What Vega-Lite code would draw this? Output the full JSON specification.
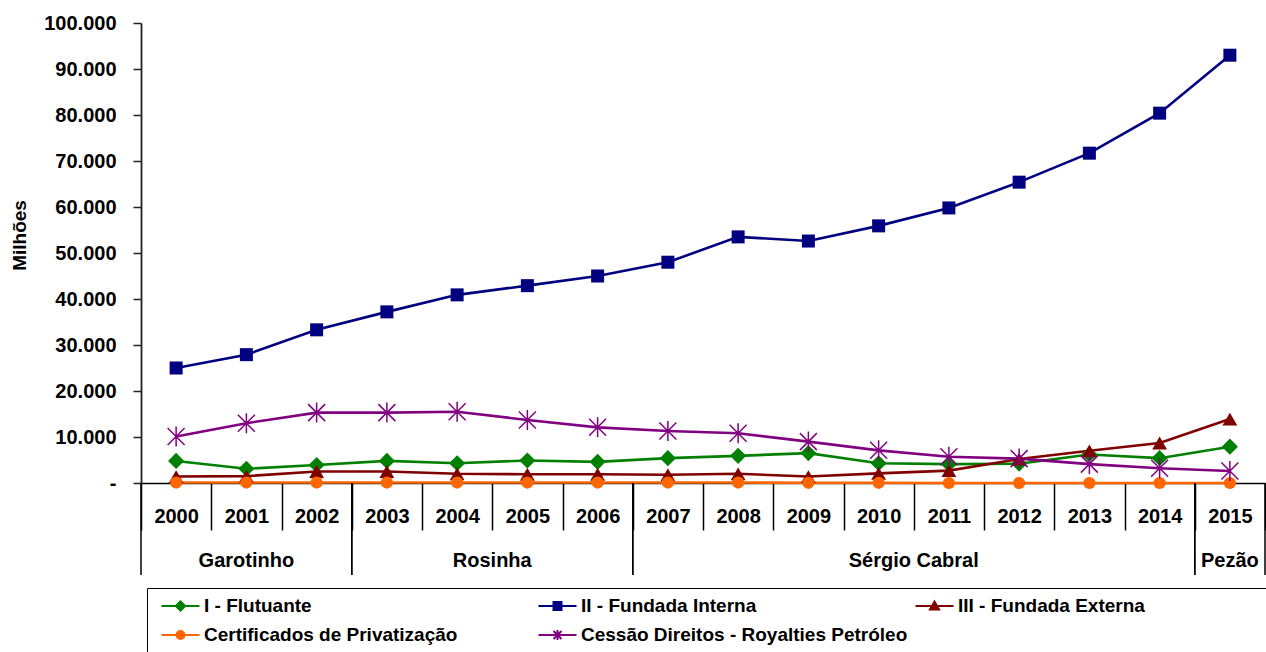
{
  "$schema": "https://vega.github.io/schema/vega-lite/v6.json",
  "autosize": {"type": "none"},
  "padding": {"left": 141, "top": 23, "right": 1, "bottom": 169},
  "width": 1124,
  "height": 460,
  "background": "white",
  "config": {"view": {"stroke": null}},
  "datasets": {
    "debt": [
      {"year": 2000, "series": "I - Flutuante", "value": 4800},
      {"year": 2001, "series": "I - Flutuante", "value": 3100},
      {"year": 2002, "series": "I - Flutuante", "value": 3900},
      {"year": 2003, "series": "I - Flutuante", "value": 4800},
      {"year": 2004, "series": "I - Flutuante", "value": 4300},
      {"year": 2005, "series": "I - Flutuante", "value": 4900},
      {"year": 2006, "series": "I - Flutuante", "value": 4600},
      {"year": 2007, "series": "I - Flutuante", "value": 5400},
      {"year": 2008, "series": "I - Flutuante", "value": 5900},
      {"year": 2009, "series": "I - Flutuante", "value": 6500},
      {"year": 2010, "series": "I - Flutuante", "value": 4300},
      {"year": 2011, "series": "I - Flutuante", "value": 4100},
      {"year": 2012, "series": "I - Flutuante", "value": 4200},
      {"year": 2013, "series": "I - Flutuante", "value": 6200},
      {"year": 2014, "series": "I - Flutuante", "value": 5400},
      {"year": 2015, "series": "I - Flutuante", "value": 7900},
      {"year": 2000, "series": "II - Fundada Interna", "value": 25000},
      {"year": 2001, "series": "II - Fundada Interna", "value": 27900},
      {"year": 2002, "series": "II - Fundada Interna", "value": 33300},
      {"year": 2003, "series": "II - Fundada Interna", "value": 37200},
      {"year": 2004, "series": "II - Fundada Interna", "value": 40900},
      {"year": 2005, "series": "II - Fundada Interna", "value": 42900},
      {"year": 2006, "series": "II - Fundada Interna", "value": 45000},
      {"year": 2007, "series": "II - Fundada Interna", "value": 48000},
      {"year": 2008, "series": "II - Fundada Interna", "value": 53500},
      {"year": 2009, "series": "II - Fundada Interna", "value": 52600},
      {"year": 2010, "series": "II - Fundada Interna", "value": 55900},
      {"year": 2011, "series": "II - Fundada Interna", "value": 59800},
      {"year": 2012, "series": "II - Fundada Interna", "value": 65400},
      {"year": 2013, "series": "II - Fundada Interna", "value": 71700},
      {"year": 2014, "series": "II - Fundada Interna", "value": 80400},
      {"year": 2015, "series": "II - Fundada Interna", "value": 93000},
      {"year": 2000, "series": "III - Fundada Externa", "value": 1400},
      {"year": 2001, "series": "III - Fundada Externa", "value": 1500},
      {"year": 2002, "series": "III - Fundada Externa", "value": 2500},
      {"year": 2003, "series": "III - Fundada Externa", "value": 2500},
      {"year": 2004, "series": "III - Fundada Externa", "value": 2000},
      {"year": 2005, "series": "III - Fundada Externa", "value": 1900},
      {"year": 2006, "series": "III - Fundada Externa", "value": 1900},
      {"year": 2007, "series": "III - Fundada Externa", "value": 1800},
      {"year": 2008, "series": "III - Fundada Externa", "value": 2000},
      {"year": 2009, "series": "III - Fundada Externa", "value": 1400},
      {"year": 2010, "series": "III - Fundada Externa", "value": 2100},
      {"year": 2011, "series": "III - Fundada Externa", "value": 2700},
      {"year": 2012, "series": "III - Fundada Externa", "value": 5200},
      {"year": 2013, "series": "III - Fundada Externa", "value": 7000},
      {"year": 2014, "series": "III - Fundada Externa", "value": 8700},
      {"year": 2015, "series": "III - Fundada Externa", "value": 13900},
      {"year": 2000, "series": "Certificados de Privatização", "value": 100},
      {"year": 2001, "series": "Certificados de Privatização", "value": 100},
      {"year": 2002, "series": "Certificados de Privatização", "value": 100},
      {"year": 2003, "series": "Certificados de Privatização", "value": 100},
      {"year": 2004, "series": "Certificados de Privatização", "value": 100},
      {"year": 2005, "series": "Certificados de Privatização", "value": 100},
      {"year": 2006, "series": "Certificados de Privatização", "value": 100},
      {"year": 2007, "series": "Certificados de Privatização", "value": 100},
      {"year": 2008, "series": "Certificados de Privatização", "value": 100},
      {"year": 2009, "series": "Certificados de Privatização", "value": 50},
      {"year": 2010, "series": "Certificados de Privatização", "value": 50},
      {"year": 2011, "series": "Certificados de Privatização", "value": 0},
      {"year": 2012, "series": "Certificados de Privatização", "value": 0},
      {"year": 2013, "series": "Certificados de Privatização", "value": 0},
      {"year": 2014, "series": "Certificados de Privatização", "value": 0},
      {"year": 2015, "series": "Certificados de Privatização", "value": 0},
      {"year": 2000, "series": "Cessão Direitos - Royalties Petróleo", "value": 10100},
      {"year": 2001, "series": "Cessão Direitos - Royalties Petróleo", "value": 13000},
      {"year": 2002, "series": "Cessão Direitos - Royalties Petróleo", "value": 15300},
      {"year": 2003, "series": "Cessão Direitos - Royalties Petróleo", "value": 15300},
      {"year": 2004, "series": "Cessão Direitos - Royalties Petróleo", "value": 15500},
      {"year": 2005, "series": "Cessão Direitos - Royalties Petróleo", "value": 13700},
      {"year": 2006, "series": "Cessão Direitos - Royalties Petróleo", "value": 12100},
      {"year": 2007, "series": "Cessão Direitos - Royalties Petróleo", "value": 11300},
      {"year": 2008, "series": "Cessão Direitos - Royalties Petróleo", "value": 10800},
      {"year": 2009, "series": "Cessão Direitos - Royalties Petróleo", "value": 9000},
      {"year": 2010, "series": "Cessão Direitos - Royalties Petróleo", "value": 7100},
      {"year": 2011, "series": "Cessão Direitos - Royalties Petróleo", "value": 5700},
      {"year": 2012, "series": "Cessão Direitos - Royalties Petróleo", "value": 5300},
      {"year": 2013, "series": "Cessão Direitos - Royalties Petróleo", "value": 4100},
      {"year": 2014, "series": "Cessão Direitos - Royalties Petróleo", "value": 3200},
      {"year": 2015, "series": "Cessão Direitos - Royalties Petróleo", "value": 2600}
    ],
    "gov": [
      {"gov": "Garotinho", "first": 2000, "last": 2002, "mid": 2001, "centered": true},
      {"gov": "Rosinha", "first": 2003, "last": 2006, "mid": 2005, "centered": false},
      {"gov": "Sérgio Cabral", "first": 2007, "last": 2014, "mid": 2011, "centered": false},
      {"gov": "Pezão", "first": 2015, "last": 2015, "mid": 2015, "centered": true}
    ]
  },
  "layer": [
    {
      "data": {"name": "debt"},
      "mark": {"type": "line", "strokeWidth": 2.6},
      "encoding": {
        "x": {
          "field": "year", "type": "ordinal", "bandPosition": 0.5,
          "scale": {"type": "band", "paddingInner": 0, "paddingOuter": 0,
                    "domain": [2000,2001,2002,2003,2004,2005,2006,2007,2008,2009,2010,2011,2012,2013,2014,2015]},
          "axis": {"orient": "bottom", "title": null, "grid": false, "tickBand": "extent", "tickSize": 47, "tickColor": "#000", "tickWidth": 1.5, "domainColor": "#000", "domainWidth": 1.5, "labelFont": "Liberation Sans", "labelFontSize": 20, "labelFontWeight": "bold", "labelColor": "#000", "labelAngle": 0, "labelBaseline": "middle", "labelAlign": "center", "labelPadding": -14, "labelOverlap": false, "labelBound": false}
        },
        "y": {
          "field": "value", "type": "quantitative",
          "scale": {"domain": [0, 100000], "nice": false},
          "axis": {"orient": "left", "title": "Milhões", "grid": false, "values": [0,10000,20000,30000,40000,50000,60000,70000,80000,90000,100000], "labelExpr": "datum.value === 0 ? '-' : replace(format(datum.value, ','), ',', '.')", "tickSize": 8, "tickColor": "#222", "tickWidth": 1.5, "domainColor": "#222", "domainWidth": 1.8, "labelFont": "Liberation Sans", "labelFontSize": 20, "labelFontWeight": "bold", "labelColor": "#000", "labelPadding": 17, "titleFont": "Liberation Sans", "titleFontSize": 19, "titleFontWeight": "bold", "titleColor": "#000", "titleAngle": 270, "titleBaseline": "bottom", "titleAlign": "center", "titleX": -112, "titleY": 212,
            "encode": {"labels": {"update": {"dx": [{"test": "datum.value === 0", "value": -24}, {"value": 0}]}}}}
        },
        "color": {
          "field": "series", "type": "nominal",
          "scale": {
            "domain": ["I - Flutuante", "II - Fundada Interna", "III - Fundada Externa", "Certificados de Privatização", "Cessão Direitos - Royalties Petróleo"],
            "range": ["#008000", "#000080", "#800000", "#FF6600", "#800080"]
          },
          "legend": {
            "title": null, "orient": "none", "legendX": 6, "legendY": 565,
            "direction": "horizontal", "columns": 3, "gridAlign": "all",
            "columnPadding": 0, "rowPadding": 8, "padding": 7,
            "strokeColor": "#000", "fillColor": "#fff",
            "symbolSize": 400, "symbolStrokeWidth": 2, "labelOffset": 28,
            "labelFont": "Liberation Sans", "labelFontSize": 19, "labelFontWeight": "bold",
            "labelColor": "#000", "labelLimit": 600, "labelBaseline": "middle",
            "labelExpr": "datum.label === 'III - Fundada Externa' ? datum.label + '\u2800\u2800\u2800\u2800\u2800\u2800\u2800\u2800\u2800' : datum.label",
            "encode": {
              "symbols": {
                "update": {
                  "shape": [
                    {"test": "datum.value === 'I - Flutuante'", "value": "M-0.35,0L3.45,0M1.08,0L1.55,-0.47L2.02,0L1.55,0.47Z"},
                    {"test": "datum.value === 'II - Fundada Interna'", "value": "M-0.35,0L3.45,0M1.15,-0.4L1.95,-0.4L1.95,0.4L1.15,0.4Z"},
                    {"test": "datum.value === 'III - Fundada Externa'", "value": "M-0.35,0L3.45,0M1.55,-0.45L2.0,0.35L1.1,0.35Z"},
                    {"test": "datum.value === 'Certificados de Privatização'", "value": "M-0.35,0L3.45,0M1.15,0A0.4,0.4,0,1,1,1.95,0A0.4,0.4,0,1,1,1.15,0Z"},
                    {"value": "M-0.35,0L3.45,0M1.15,-0.4L1.95,0.4M1.15,0.4L1.95,-0.4M1.55,-0.5L1.55,0.5"}
                  ],
                  "fill": [
                    {"test": "datum.value === 'I - Flutuante'", "value": "#008000"},
                    {"test": "datum.value === 'II - Fundada Interna'", "value": "#000080"},
                    {"test": "datum.value === 'III - Fundada Externa'", "value": "#800000"},
                    {"test": "datum.value === 'Certificados de Privatização'", "value": "#FF6600"},
                    {"value": "#800080"}
                  ]
                }
              }
            }
          }
        }
      }
    },
    {
      "data": {"name": "debt"},
      "transform": [{"filter": "datum.series === 'I - Flutuante'"}],
      "mark": {"type": "point", "shape": "diamond", "filled": true, "size": 260, "color": "#008000", "opacity": 1},
      "encoding": {
        "x": {"field": "year", "type": "ordinal", "bandPosition": 0.5,
          "axis": {"orient": "bottom", "title": null, "grid": false, "tickBand": "extent", "tickSize": 47, "tickColor": "#000", "tickWidth": 1.5, "domainColor": "#000", "domainWidth": 1.5, "labelFont": "Liberation Sans", "labelFontSize": 20, "labelFontWeight": "bold", "labelColor": "#000", "labelAngle": 0, "labelBaseline": "middle", "labelAlign": "center", "labelPadding": -14, "labelOverlap": false, "labelBound": false}},
        "y": {"field": "value", "type": "quantitative",
          "axis": {"orient": "left", "title": "Milhões", "grid": false, "values": [0,10000,20000,30000,40000,50000,60000,70000,80000,90000,100000], "labelExpr": "datum.value === 0 ? '-' : replace(format(datum.value, ','), ',', '.')", "tickSize": 8, "tickColor": "#222", "tickWidth": 1.5, "domainColor": "#222", "domainWidth": 1.8, "labelFont": "Liberation Sans", "labelFontSize": 20, "labelFontWeight": "bold", "labelColor": "#000", "labelPadding": 17, "titleFont": "Liberation Sans", "titleFontSize": 19, "titleFontWeight": "bold", "titleColor": "#000", "titleAngle": 270, "titleBaseline": "bottom", "titleAlign": "center", "titleX": -112, "titleY": 212,
            "encode": {"labels": {"update": {"dx": [{"test": "datum.value === 0", "value": -24}, {"value": 0}]}}}}}
      }
    },
    {
      "data": {"name": "debt"},
      "transform": [{"filter": "datum.series === 'II - Fundada Interna'"}],
      "mark": {"type": "point", "shape": "square", "filled": true, "size": 169, "color": "#000080", "opacity": 1},
      "encoding": {
        "x": {"field": "year", "type": "ordinal", "bandPosition": 0.5,
          "axis": {"orient": "bottom", "title": null, "grid": false, "tickBand": "extent", "tickSize": 47, "tickColor": "#000", "tickWidth": 1.5, "domainColor": "#000", "domainWidth": 1.5, "labelFont": "Liberation Sans", "labelFontSize": 20, "labelFontWeight": "bold", "labelColor": "#000", "labelAngle": 0, "labelBaseline": "middle", "labelAlign": "center", "labelPadding": -14, "labelOverlap": false, "labelBound": false}},
        "y": {"field": "value", "type": "quantitative",
          "axis": {"orient": "left", "title": "Milhões", "grid": false, "values": [0,10000,20000,30000,40000,50000,60000,70000,80000,90000,100000], "labelExpr": "datum.value === 0 ? '-' : replace(format(datum.value, ','), ',', '.')", "tickSize": 8, "tickColor": "#222", "tickWidth": 1.5, "domainColor": "#222", "domainWidth": 1.8, "labelFont": "Liberation Sans", "labelFontSize": 20, "labelFontWeight": "bold", "labelColor": "#000", "labelPadding": 17, "titleFont": "Liberation Sans", "titleFontSize": 19, "titleFontWeight": "bold", "titleColor": "#000", "titleAngle": 270, "titleBaseline": "bottom", "titleAlign": "center", "titleX": -112, "titleY": 212,
            "encode": {"labels": {"update": {"dx": [{"test": "datum.value === 0", "value": -24}, {"value": 0}]}}}}}
      }
    },
    {
      "data": {"name": "debt"},
      "transform": [{"filter": "datum.series === 'III - Fundada Externa'"}],
      "mark": {"type": "point", "shape": "triangle-up", "filled": true, "size": 220, "color": "#800000", "opacity": 1},
      "encoding": {
        "x": {"field": "year", "type": "ordinal", "bandPosition": 0.5,
          "axis": {"orient": "bottom", "title": null, "grid": false, "tickBand": "extent", "tickSize": 47, "tickColor": "#000", "tickWidth": 1.5, "domainColor": "#000", "domainWidth": 1.5, "labelFont": "Liberation Sans", "labelFontSize": 20, "labelFontWeight": "bold", "labelColor": "#000", "labelAngle": 0, "labelBaseline": "middle", "labelAlign": "center", "labelPadding": -14, "labelOverlap": false, "labelBound": false}},
        "y": {"field": "value", "type": "quantitative",
          "axis": {"orient": "left", "title": "Milhões", "grid": false, "values": [0,10000,20000,30000,40000,50000,60000,70000,80000,90000,100000], "labelExpr": "datum.value === 0 ? '-' : replace(format(datum.value, ','), ',', '.')", "tickSize": 8, "tickColor": "#222", "tickWidth": 1.5, "domainColor": "#222", "domainWidth": 1.8, "labelFont": "Liberation Sans", "labelFontSize": 20, "labelFontWeight": "bold", "labelColor": "#000", "labelPadding": 17, "titleFont": "Liberation Sans", "titleFontSize": 19, "titleFontWeight": "bold", "titleColor": "#000", "titleAngle": 270, "titleBaseline": "bottom", "titleAlign": "center", "titleX": -112, "titleY": 212,
            "encode": {"labels": {"update": {"dx": [{"test": "datum.value === 0", "value": -24}, {"value": 0}]}}}}}
      }
    },
    {
      "data": {"name": "debt"},
      "transform": [{"filter": "datum.series === 'Certificados de Privatização'"}],
      "mark": {"type": "point", "shape": "circle", "filled": true, "size": 150, "color": "#FF6600", "opacity": 1},
      "encoding": {
        "x": {"field": "year", "type": "ordinal", "bandPosition": 0.5,
          "axis": {"orient": "bottom", "title": null, "grid": false, "tickBand": "extent", "tickSize": 47, "tickColor": "#000", "tickWidth": 1.5, "domainColor": "#000", "domainWidth": 1.5, "labelFont": "Liberation Sans", "labelFontSize": 20, "labelFontWeight": "bold", "labelColor": "#000", "labelAngle": 0, "labelBaseline": "middle", "labelAlign": "center", "labelPadding": -14, "labelOverlap": false, "labelBound": false}},
        "y": {"field": "value", "type": "quantitative",
          "axis": {"orient": "left", "title": "Milhões", "grid": false, "values": [0,10000,20000,30000,40000,50000,60000,70000,80000,90000,100000], "labelExpr": "datum.value === 0 ? '-' : replace(format(datum.value, ','), ',', '.')", "tickSize": 8, "tickColor": "#222", "tickWidth": 1.5, "domainColor": "#222", "domainWidth": 1.8, "labelFont": "Liberation Sans", "labelFontSize": 20, "labelFontWeight": "bold", "labelColor": "#000", "labelPadding": 17, "titleFont": "Liberation Sans", "titleFontSize": 19, "titleFontWeight": "bold", "titleColor": "#000", "titleAngle": 270, "titleBaseline": "bottom", "titleAlign": "center", "titleX": -112, "titleY": 212,
            "encode": {"labels": {"update": {"dx": [{"test": "datum.value === 0", "value": -24}, {"value": 0}]}}}}}
      }
    },
    {
      "data": {"name": "debt"},
      "transform": [{"filter": "datum.series === 'Cessão Direitos - Royalties Petróleo'"}],
      "mark": {"type": "point", "shape": "M-0.85,-0.85L0.85,0.85M-0.85,0.85L0.85,-0.85M0,-1L0,1", "filled": false, "size": 400, "color": "#800080", "strokeWidth": 1.5, "opacity": 1},
      "encoding": {
        "x": {"field": "year", "type": "ordinal", "bandPosition": 0.5,
          "axis": {"orient": "bottom", "title": null, "grid": false, "tickBand": "extent", "tickSize": 47, "tickColor": "#000", "tickWidth": 1.5, "domainColor": "#000", "domainWidth": 1.5, "labelFont": "Liberation Sans", "labelFontSize": 20, "labelFontWeight": "bold", "labelColor": "#000", "labelAngle": 0, "labelBaseline": "middle", "labelAlign": "center", "labelPadding": -14, "labelOverlap": false, "labelBound": false}},
        "y": {"field": "value", "type": "quantitative",
          "axis": {"orient": "left", "title": "Milhões", "grid": false, "values": [0,10000,20000,30000,40000,50000,60000,70000,80000,90000,100000], "labelExpr": "datum.value === 0 ? '-' : replace(format(datum.value, ','), ',', '.')", "tickSize": 8, "tickColor": "#222", "tickWidth": 1.5, "domainColor": "#222", "domainWidth": 1.8, "labelFont": "Liberation Sans", "labelFontSize": 20, "labelFontWeight": "bold", "labelColor": "#000", "labelPadding": 17, "titleFont": "Liberation Sans", "titleFontSize": 19, "titleFontWeight": "bold", "titleColor": "#000", "titleAngle": 270, "titleBaseline": "bottom", "titleAlign": "center", "titleX": -112, "titleY": 212,
            "encode": {"labels": {"update": {"dx": [{"test": "datum.value === 0", "value": -24}, {"value": 0}]}}}}}
      }
    },
    {
      "data": {"name": "gov"},
      "mark": {"type": "rule", "color": "#000", "strokeWidth": 1.5, "y": {"expr": "height"}, "y2": {"expr": "height + 92"}},
      "encoding": {
        "x": {"field": "first", "type": "ordinal", "bandPosition": 0,
          "axis": {"orient": "bottom", "title": null, "grid": false, "tickBand": "extent", "tickSize": 47, "tickColor": "#000", "tickWidth": 1.5, "domainColor": "#000", "domainWidth": 1.5, "labelFont": "Liberation Sans", "labelFontSize": 20, "labelFontWeight": "bold", "labelColor": "#000", "labelAngle": 0, "labelBaseline": "middle", "labelAlign": "center", "labelPadding": -14, "labelOverlap": false, "labelBound": false}}
      }
    },
    {
      "data": {"name": "gov"},
      "mark": {"type": "rule", "color": "#000", "strokeWidth": 1.5, "y": {"expr": "height"}, "y2": {"expr": "height + 92"}},
      "encoding": {
        "x": {"field": "last", "type": "ordinal", "bandPosition": 1,
          "axis": {"orient": "bottom", "title": null, "grid": false, "tickBand": "extent", "tickSize": 47, "tickColor": "#000", "tickWidth": 1.5, "domainColor": "#000", "domainWidth": 1.5, "labelFont": "Liberation Sans", "labelFontSize": 20, "labelFontWeight": "bold", "labelColor": "#000", "labelAngle": 0, "labelBaseline": "middle", "labelAlign": "center", "labelPadding": -14, "labelOverlap": false, "labelBound": false}}
      }
    },
    {
      "data": {"name": "gov"},
      "transform": [{"filter": "datum.centered"}],
      "mark": {"type": "text", "y": {"expr": "height + 78"}, "font": "Liberation Sans", "fontSize": 20, "fontWeight": "bold", "color": "#000", "baseline": "middle", "align": "center"},
      "encoding": {
        "x": {"field": "mid", "type": "ordinal", "bandPosition": 0.5,
          "axis": {"orient": "bottom", "title": null, "grid": false, "tickBand": "extent", "tickSize": 47, "tickColor": "#000", "tickWidth": 1.5, "domainColor": "#000", "domainWidth": 1.5, "labelFont": "Liberation Sans", "labelFontSize": 20, "labelFontWeight": "bold", "labelColor": "#000", "labelAngle": 0, "labelBaseline": "middle", "labelAlign": "center", "labelPadding": -14, "labelOverlap": false, "labelBound": false}},
        "text": {"field": "gov"}
      }
    },
    {
      "data": {"name": "gov"},
      "transform": [{"filter": "!datum.centered"}],
      "mark": {"type": "text", "y": {"expr": "height + 78"}, "font": "Liberation Sans", "fontSize": 20, "fontWeight": "bold", "color": "#000", "baseline": "middle", "align": "center"},
      "encoding": {
        "x": {"field": "mid", "type": "ordinal", "bandPosition": 0,
          "axis": {"orient": "bottom", "title": null, "grid": false, "tickBand": "extent", "tickSize": 47, "tickColor": "#000", "tickWidth": 1.5, "domainColor": "#000", "domainWidth": 1.5, "labelFont": "Liberation Sans", "labelFontSize": 20, "labelFontWeight": "bold", "labelColor": "#000", "labelAngle": 0, "labelBaseline": "middle", "labelAlign": "center", "labelPadding": -14, "labelOverlap": false, "labelBound": false}},
        "text": {"field": "gov"}
      }
    }
  ]
}
